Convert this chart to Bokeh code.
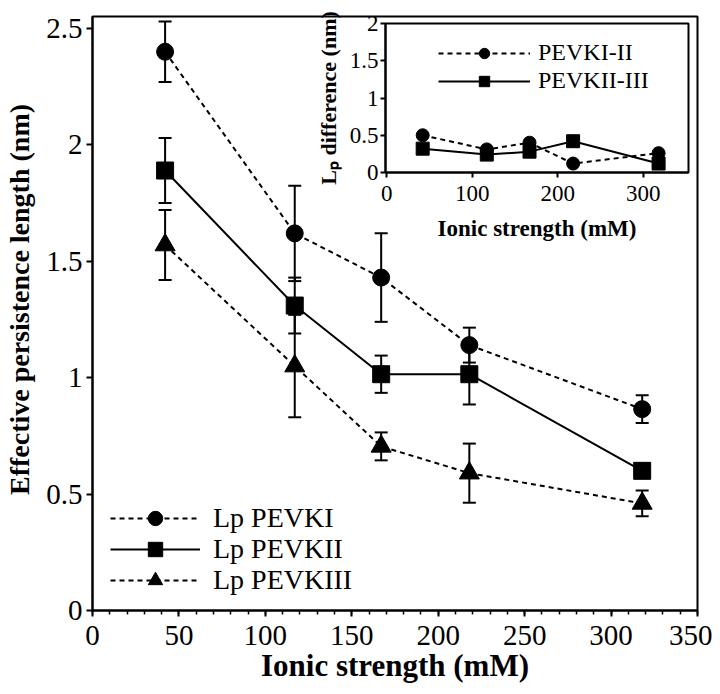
from bokeh.plotting import figure
from bokeh.models import (ColumnDataSource, Whisker, TeeHead, Range1d, FixedTicker,
                          SingleIntervalTicker, Legend, LegendItem, GridBox)
from bokeh.embed import file_html
from bokeh.resources import INLINE

# ---------------- data ----------------
ionic = [42, 117, 167, 218, 318]

lp_pevki = [2.40, 1.62, 1.43, 1.14, 0.865]
err_pevki = [0.13, 0.205, 0.19, 0.075, 0.06]

lp_pevkii = [1.89, 1.31, 1.015, 1.015, 0.60]
err_pevkii = [0.14, 0.12, 0.08, 0.13, 0.025]

lp_pevkiii = [1.57, 1.05, 0.705, 0.59, 0.46]
err_pevkiii = [0.15, 0.22, 0.06, 0.127, 0.055]

diff_i_ii = [0.50, 0.31, 0.40, 0.12, 0.26]
diff_ii_iii = [0.32, 0.24, 0.28, 0.42, 0.12]

main_yticks = [0, 0.5, 1, 1.5, 2, 2.5]
main_ytick_labels = ["0", "0.5", "1", "1.5", "2", "2.5"]
inset_xticks = [0, 100, 200, 300]
inset_yticks = [0, 0.5, 1, 1.5, 2]
inset_ytick_labels = ["0", "0.5", "1", "1.5", "2"]

FONT = "Liberation Serif"

# shared borders (both plots sit in one grid cell)
B_LEFT, B_RIGHT, B_TOP, B_BOTTOM = 92, 15, 16, 80

# ---------------- main figure ----------------
p = figure(width=712, height=690, output_backend="svg", toolbar_location=None, title=None,
           x_range=Range1d(0, 350), y_range=Range1d(0, 2.5516),
           min_border_left=B_LEFT, min_border_right=B_RIGHT,
           min_border_top=B_TOP, min_border_bottom=B_BOTTOM)
p.grid.visible = False
p.outline_line_color = "black"
p.outline_line_width = 2
p.background_fill_color = "white"
p.border_fill_color = "white"

xa = p.xaxis[0]
xa.ticker = SingleIntervalTicker(interval=50, num_minor_ticks=5)
ya = p.yaxis[0]
ya.ticker = FixedTicker(ticks=main_yticks)
ya.major_label_overrides = {t: l for t, l in zip(main_yticks, main_ytick_labels)}
for ax in (xa, ya):
    ax.axis_line_width = 2
    ax.axis_line_color = "black"
    ax.major_tick_line_width = 2
    ax.minor_tick_line_width = 1.5
    ax.major_tick_in = 0
    ax.major_tick_out = 6
    ax.minor_tick_in = 0
    ax.minor_tick_out = 4
    ax.major_label_text_font = FONT
    ax.major_label_text_font_size = "29px"
    ax.major_label_text_color = "black"
    ax.axis_label_text_font = FONT
    ax.axis_label_text_font_style = "bold"
    ax.axis_label_text_color = "black"
ya.minor_tick_out = 0
xa.axis_label_text_font_size = "31px"
ya.axis_label_text_font_size = "28px"
xa.major_label_standoff = 9
ya.major_label_standoff = 4
xa.axis_label = "Ionic strength (mM)"
ya.axis_label = "\u00a0" * 4 + "Effective persistence length (nm)"
xa.axis_label_standoff = 0
ya.axis_label_standoff = 8

series = [
    (lp_pevki, err_pevki, "circle", "5 4", 17, "Lp PEVKI"),
    (lp_pevkii, err_pevkii, "square", "solid", 17, "Lp PEVKII"),
    (lp_pevkiii, err_pevkiii, "triangle", "5 4", 20, "Lp PEVKIII"),
]
legend_offsets = [74, 43, 12]
for (vals, errs, marker, dash, size, label), off in zip(series, legend_offsets):
    src = ColumnDataSource(dict(x=ionic, y=vals,
                                upper=[v + e for v, e in zip(vals, errs)],
                                lower=[v - e for v, e in zip(vals, errs)]))
    w = Whisker(source=src, base="x", upper="upper", lower="lower", dimension="height",
                line_width=2, line_color="black",
                upper_head=TeeHead(size=13, line_width=2, line_color="black"),
                lower_head=TeeHead(size=13, line_width=2, line_color="black"))
    p.add_layout(w)
    r1 = p.line("x", "y", source=src, line_color="black", line_width=2, line_dash=dash)
    r2 = p.scatter("x", "y", source=src, marker=marker, size=size,
                   fill_color="black", line_color="black")
    leg = Legend(items=[LegendItem(label=label, renderers=[r1, r2])], location=(18, off),
                 glyph_width=90, glyph_height=36, label_height=36, label_standoff=13,
                 label_text_font=FONT, label_text_font_size="28px", label_text_color="black",
                 padding=0, margin=0, spacing=0,
                 border_line_alpha=0, background_fill_alpha=0)
    p.add_layout(leg, "center")

# ---------------- inset figure ----------------
q = figure(width=410, height=245, output_backend="svg", toolbar_location=None, title=None,
           x_range=Range1d(-1.5, 353), y_range=Range1d(0, 2),
           min_border_left=B_LEFT, min_border_right=B_RIGHT,
           min_border_top=B_TOP, min_border_bottom=B_BOTTOM,
           margin=(7, 0, 0, 293))
q.grid.visible = False
q.outline_line_color = "black"
q.outline_line_width = 2
q.background_fill_alpha = 0
q.border_fill_alpha = 0

qx = q.xaxis[0]
qx.ticker = FixedTicker(ticks=inset_xticks)
qy = q.yaxis[0]
qy.ticker = FixedTicker(ticks=inset_yticks)
qy.major_label_overrides = {t: l for t, l in zip(inset_yticks, inset_ytick_labels)}
for ax in (qx, qy):
    ax.axis_line_width = 2
    ax.axis_line_color = "black"
    ax.major_tick_line_width = 2
    ax.major_tick_in = 0
    ax.major_tick_out = 5
    ax.minor_tick_out = 0
    ax.minor_tick_in = 0
    ax.major_label_text_font = FONT
    ax.major_label_text_font_size = "23px"
    ax.major_label_text_color = "black"
    ax.axis_label_text_font = FONT
    ax.axis_label_text_font_style = "bold"
    ax.axis_label_text_color = "black"
qx.axis_label_text_font_size = "23px"
qy.axis_label_text_font_size = "22px"
qx.major_label_standoff = 8
qy.major_label_standoff = 2
qx.axis_label = "Ionic strength (mM)"
qy.axis_label = "L\u209a difference (nm)"
qx.axis_label_standoff = 12
qy.axis_label_standoff = 6

inset_series = [
    (diff_i_ii, "circle", "5 4", "PEVKI-II"),
    (diff_ii_iii, "square", "solid", "PEVKII-III"),
]
qitems = []
for vals, marker, dash, label in inset_series:
    src = ColumnDataSource(dict(x=ionic, y=vals))
    r1 = q.line("x", "y", source=src, line_color="black", line_width=2, line_dash=dash)
    r2 = q.scatter("x", "y", source=src, marker=marker, size=13,
                   fill_color="black", line_color="black")
    qitems.append(LegendItem(label=label, renderers=[r1, r2]))

qleg = Legend(items=qitems, location=(53, 78), orientation="vertical",
              glyph_width=92, glyph_height=26, label_standoff=8,
              label_text_font=FONT, label_text_font_size="24px", label_text_color="black",
              padding=0, margin=0, spacing=1,
              border_line_alpha=0, background_fill_alpha=0)
q.add_layout(qleg, "center")

layout = GridBox(children=[(p, 0, 0), (q, 0, 0)])

open("out.html", "w").write(file_html(layout, INLINE))
